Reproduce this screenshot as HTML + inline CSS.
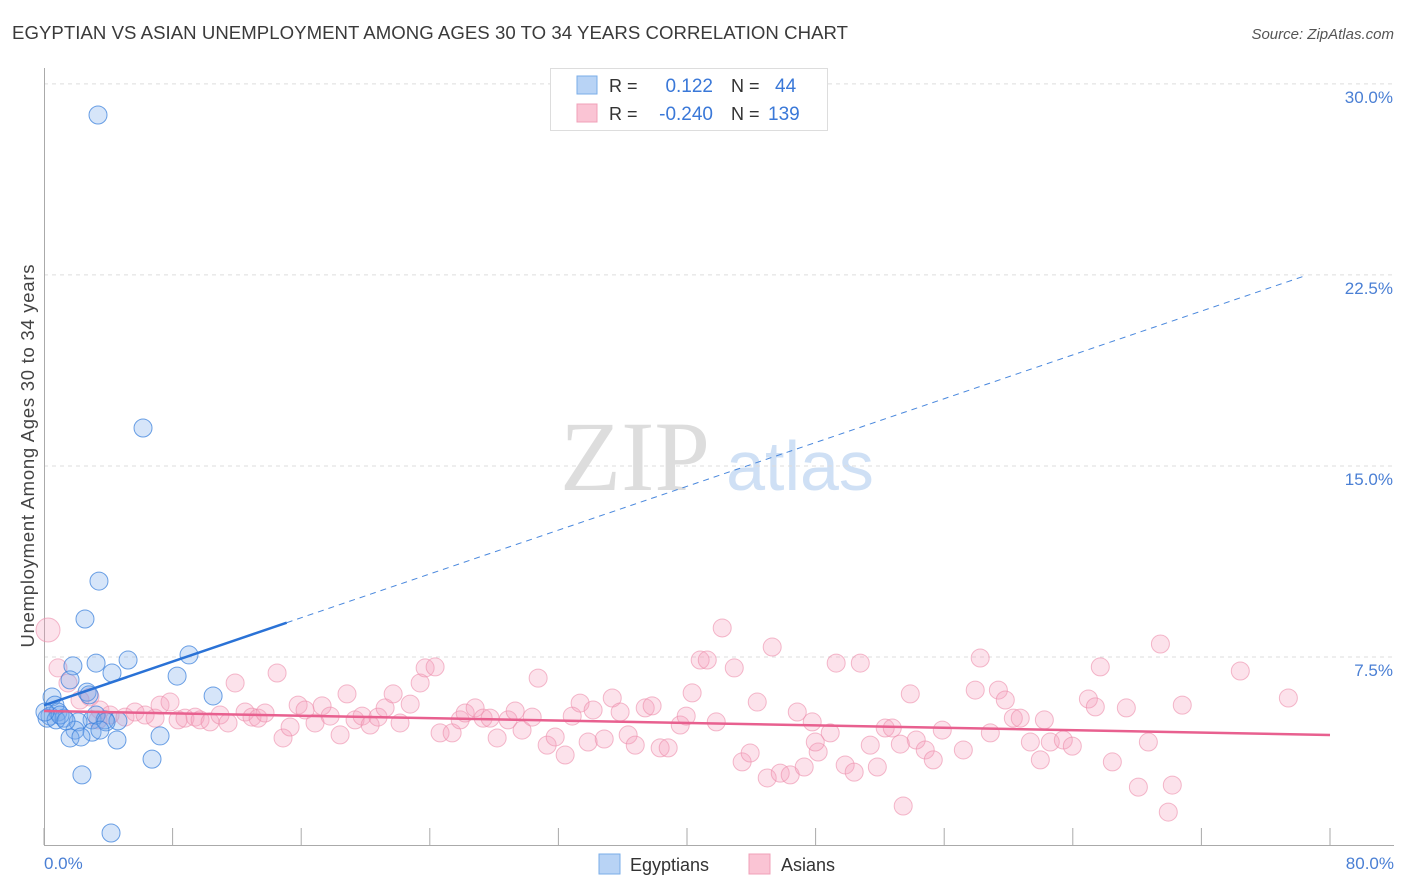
<!DOCTYPE html>
<html><head><meta charset="utf-8"><style>
body{margin:0;background:#fff;font-family:"Liberation Sans",sans-serif;}
#wrap{position:relative;width:1406px;height:892px;overflow:hidden;}
</style></head><body>
<div id="wrap">
<svg id="svg" width="1406" height="892" xmlns="http://www.w3.org/2000/svg">
<text x="12" y="39" font-size="18.6" fill="#3a3a3a" textLength="836">EGYPTIAN VS ASIAN UNEMPLOYMENT AMONG AGES 30 TO 34 YEARS CORRELATION CHART</text>
<text x="1394" y="39" font-size="15" fill="#555" font-style="italic" text-anchor="end">Source: ZipAtlas.com</text>
<text x="635" y="490" font-size="100" fill="#ddd" font-family="Liberation Serif,serif" text-anchor="middle">ZIP</text>
<text x="800" y="490" font-size="70" fill="#cfe0f5" text-anchor="middle">atlas</text>
<g id="grid"></g><g id="marks"></g>
<text transform="translate(34,456) rotate(-90)" font-size="18.5" fill="#444" text-anchor="middle" textLength="383">Unemployment Among Ages 30 to 34 years</text>
<text x="44" y="869" font-size="17" fill="#4a7fd4">0.0%</text>
<text x="1394" y="869" font-size="17" fill="#4a7fd4" text-anchor="end">80.0%</text>
<g>
<rect x="550.5" y="68.5" width="277" height="62" fill="#fff" stroke="#ddd"/>
<rect x="577" y="76" width="20" height="18" fill="#b8d3f5" stroke="#7aaee8"/>
<rect x="577" y="104" width="20" height="18" fill="#fac4d4" stroke="#f0a0b8"/>
<text x="609" y="92" font-size="18" fill="#333">R = </text><text x="713" y="92" font-size="19" fill="#3a78d8" text-anchor="end">0.122</text>
<text x="731" y="92" font-size="18" fill="#333">N = </text><text x="775" y="92" font-size="19" fill="#3a78d8">44</text>
<text x="609" y="120" font-size="18" fill="#333">R = </text><text x="713" y="120" font-size="19" fill="#3a78d8" text-anchor="end">-0.240</text>
<text x="731" y="120" font-size="18" fill="#333">N = </text><text x="768" y="120" font-size="19" fill="#3a78d8">139</text>
</g>
<g>
<rect x="599" y="854" width="21" height="20" fill="#b8d3f5" stroke="#7aaee8"/>
<text x="630" y="871" font-size="18" fill="#333">Egyptians</text>
<rect x="749" y="854" width="21" height="20" fill="#fac4d4" stroke="#f0a0b8"/>
<text x="781" y="871" font-size="18" fill="#333">Asians</text>
</g>
</svg>
</div>
<script>
const yTicks=[7.5,15,22.5,30];
const yTickLabels=["7.5%","15.0%","22.5%","30.0%"];
const xTicks=[0,8,16,24,32,40,48,56,64,72,80];
const blueX=[3.36,6.16,3.42,2.55,3.24,5.23,9.02,1.80,4.23,8.28,1.62,2.68,2.80,10.52,0.50,0.68,0.87,0.37,1.24,0.19,0.75,2.99,3.80,4.60,2.12,1.93,2.99,1.62,2.30,4.54,7.22,6.72,2.36,4.17,3.24,3.86,1.0,1.37,0.06,3.48];
const blueY=[28.78,16.49,10.48,8.99,7.26,7.38,7.58,7.15,6.87,6.75,6.60,6.12,6.01,5.97,5.93,5.61,5.34,5.18,5.10,5.10,5.03,5.03,5.03,4.99,4.95,4.63,4.55,4.32,4.36,4.24,4.40,3.49,2.87,0.59,5.22,4.95,5.22,4.99,5.34,4.63];
const pinkX=[0.25,0.87,1.49,2.24,2.86,3.48,3.36,4.11,5.04,5.66,6.29,6.91,7.22,7.84,8.34,8.77,9.40,9.71,10.33,10.95,11.45,11.89,12.51,12.94,13.32,13.75,14.50,14.87,15.31,15.81,16.24,16.86,17.30,17.80,18.42,18.85,19.35,19.79,20.29,20.78,21.22,21.72,22.15,22.78,23.40,23.71,24.33,24.64,25.39,25.89,26.20,26.82,27.32,27.75,28.19,28.87,29.31,29.74,30.37,30.74,31.30,31.80,32.42,32.86,33.35,33.85,34.16,34.85,35.35,35.84,36.34,36.78,37.40,37.83,38.33,38.83,39.58,39.95,40.32,40.82,41.26,41.82,42.19,42.94,43.43,43.93,44.37,44.99,45.30,45.80,46.42,46.86,47.29,47.79,48.16,48.91,49.28,49.84,50.40,50.78,51.40,51.84,52.33,52.77,53.89,54.26,54.82,55.32,55.88,57.19,57.93,58.24,58.87,59.37,59.80,60.30,60.73,61.36,61.98,62.23,62.60,63.41,63.97,64.97,65.40,65.71,66.46,67.33,68.08,68.70,69.45,69.94,70.19,70.81,74.42,77.41,53.45,47.98,53.27];
const pinkY=[8.56,7.07,6.48,5.81,5.93,5.42,5.03,5.22,5.14,5.34,5.22,5.10,5.61,5.73,5.03,5.10,5.14,5.03,4.95,5.22,4.91,6.48,5.34,5.14,5.10,5.30,6.87,4.32,4.75,5.61,5.42,4.91,5.58,5.18,4.44,6.05,5.03,5.18,4.83,5.14,5.50,6.05,4.91,5.65,6.48,7.07,7.11,4.52,4.52,5.03,5.30,5.50,5.10,5.10,4.32,5.03,5.38,4.63,5.14,6.67,4.04,4.36,3.65,5.18,5.69,4.16,5.42,4.28,5.89,5.34,4.44,4.04,5.50,5.58,3.93,3.93,4.83,5.18,6.09,7.38,7.38,4.95,8.64,7.07,3.38,3.73,5.73,2.75,7.89,2.94,2.87,5.34,3.18,4.95,3.77,4.52,7.26,3.26,2.98,7.26,4.04,3.18,4.71,4.71,6.05,4.24,3.85,3.46,4.63,3.85,6.20,7.46,4.52,6.20,5.81,5.10,5.10,4.16,3.46,5.03,4.16,4.24,4.00,5.85,5.54,7.11,3.38,5.50,2.39,4.16,8.01,1.41,2.47,5.61,6.95,5.89,1.65,4.16,4.08];
const blueTrend=[5.6,0.215];
const pinkTrend=[5.38,-0.0118];
const blueSolidEnd=15.1, blueDashEnd=78.5, pinkEnd=80;

const X=v=>44+v*16.075, Y=v=>848-v*25.47;
const NS="http://www.w3.org/2000/svg";
function mk(tag,attrs,parent){const e=document.createElementNS(NS,tag);for(const k in attrs)e.setAttribute(k,attrs[k]);parent.appendChild(e);return e;}
const grid=document.getElementById('grid'), marks=document.getElementById('marks');
yTicks.forEach((t,i)=>{
  const l=mk('line',{x1:44,x2:1394,y1:Y(t),y2:Y(t),stroke:'#ddd','stroke-dasharray':'4,4'},grid);
  
  
  const tx=mk('text',{x:1393,y:Y(t)+19,'font-size':17,fill:'#4a7fd4','text-anchor':'end'},grid);
  tx.textContent=yTickLabels[i];
  
  
});
const ax=mk('path',{d:'M44.5 68 V845.5 H1394',stroke:'#aaa',fill:'none'},grid);


xTicks.forEach(t=>{
  const l=mk('line',{x1:X(t),x2:X(t),y1:828,y2:845,stroke:'#aaa'},grid);
  
  
});
pinkX.forEach((x,i)=>{
  const c=mk('circle',{cx:X(x),cy:Y(pinkY[i]),r:i===0?12:9,fill:'rgba(244,160,188,0.3)',stroke:'rgba(236,140,170,0.6)','stroke-width':1},marks);
  
  
});
blueX.forEach((x,i)=>{
  const c=mk('circle',{cx:X(x),cy:Y(blueY[i]),r:9,fill:'rgba(120,170,235,0.3)',stroke:'rgba(60,130,220,0.75)','stroke-width':1},marks);
  
  
});
const pl=mk('line',{x1:X(0),y1:Y(pinkTrend[0]),x2:X(pinkEnd),y2:Y(pinkTrend[0]+pinkTrend[1]*pinkEnd),stroke:'#e8608f','stroke-width':2.5},marks);


const bl=mk('line',{x1:X(0),y1:Y(blueTrend[0]),x2:X(blueSolidEnd),y2:Y(blueTrend[0]+blueTrend[1]*blueSolidEnd),stroke:'#2a72d6','stroke-width':2.5},marks);


const bd=mk('line',{x1:X(blueSolidEnd),y1:Y(blueTrend[0]+blueTrend[1]*blueSolidEnd),x2:X(blueDashEnd),y2:Y(blueTrend[0]+blueTrend[1]*blueDashEnd),stroke:'#4a88dd','stroke-width':1,'stroke-dasharray':'6,5'},marks);


</script>
</body></html>
